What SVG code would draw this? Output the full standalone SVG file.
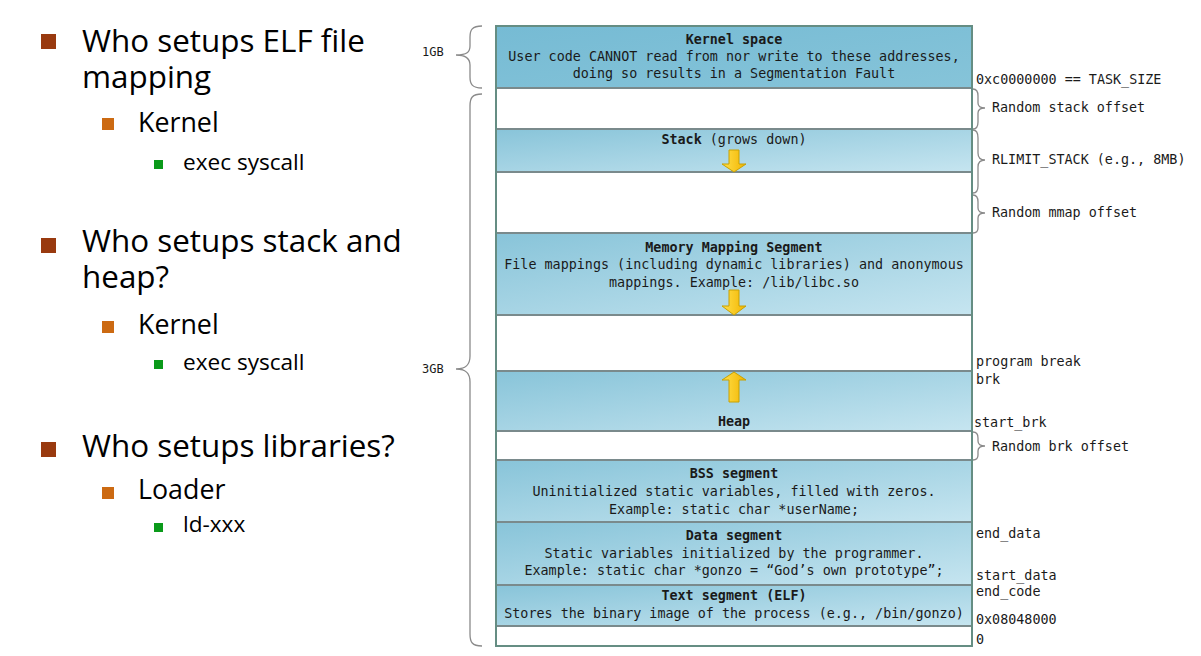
<svg xmlns="http://www.w3.org/2000/svg" width="1201" height="656" viewBox="0 0 1201 656">
<style>
.b1{font-family:"Open Sans","Noto Sans",sans-serif;font-size:31.4px;fill:#000}
.b2{font-family:"Open Sans","Noto Sans",sans-serif;font-size:26.8px;fill:#000}
.b3{font-family:"Open Sans","Noto Sans",sans-serif;font-size:22.6px;fill:#000}
.m{font-family:"DejaVu Sans Mono","Liberation Mono",monospace;font-size:13.4px;fill:#1a1a1a}
.mc{font-family:"DejaVu Sans Mono","Liberation Mono",monospace;font-size:13.4px;fill:#1a1a1a;text-anchor:middle}
.gb{font-family:"DejaVu Sans Mono","Liberation Mono",monospace;font-size:12px;fill:#1a1a1a}
.bold{font-weight:bold}
.seg{fill:url(#segGrad);stroke:#7a8a8c;stroke-width:2}
.white{fill:#fff;stroke:#7a8a8c;stroke-width:2}
.brace{fill:none;stroke:#8a8a8a;stroke-width:1.3}
.arr{fill:url(#arrGrad);stroke:#c9a100;stroke-width:1}
.sq1{fill:#993a0f}
.sq2{fill:#cc6a12}
.sq3{fill:#0a9a1a}
</style>
<defs>
<linearGradient id="segGrad" x1="0" y1="0" x2="1" y2="1">
<stop offset="0" stop-color="#88c4d9"/>
<stop offset="1" stop-color="#c6e5f0"/>
</linearGradient>
<linearGradient id="kernGrad" x1="0" y1="0" x2="1" y2="1">
<stop offset="0" stop-color="#76bbd4"/>
<stop offset="1" stop-color="#86c4d9"/>
</linearGradient>
<linearGradient id="arrGrad" x1="0" y1="0" x2="1" y2="0">
<stop offset="0" stop-color="#ffe04a"/>
<stop offset="1" stop-color="#f2b400"/>
</linearGradient>
</defs>
<rect width="1201" height="656" fill="#fff"/>

<g id="bullets">
<rect class="sq1" x="41" y="34" width="15" height="15"/>
<text class="b1" x="82" y="52">Who setups ELF file</text>
<text class="b1" x="82" y="88">mapping</text>
<rect class="sq2" x="102" y="118" width="12" height="12"/>
<text class="b2" x="138" y="132">Kernel</text>
<rect class="sq3" x="154" y="160" width="9" height="9"/>
<text class="b3" x="183" y="170">exec syscall</text>

<rect class="sq1" x="41" y="238" width="15" height="15"/>
<text class="b1" x="82" y="252">Who setups stack and</text>
<text class="b1" x="82" y="288">heap?</text>
<rect class="sq2" x="102" y="321" width="12" height="12"/>
<text class="b2" x="138" y="334">Kernel</text>
<rect class="sq3" x="154" y="360" width="9" height="9"/>
<text class="b3" x="183" y="370">exec syscall</text>

<rect class="sq1" x="41" y="442" width="15" height="15"/>
<text class="b1" x="82" y="457">Who setups libraries?</text>
<rect class="sq2" x="102" y="487" width="12" height="12"/>
<text class="b2" x="138" y="499">Loader</text>
<rect class="sq3" x="154" y="523" width="9" height="9"/>
<text class="b3" x="183" y="532">ld-xxx</text>
</g>

<g id="kernel">
<rect x="496" y="26" width="476" height="62" fill="url(#kernGrad)" stroke="#7a8a8c" stroke-width="2"/>
<text class="mc bold" x="734" y="44">Kernel space</text>
<text class="mc" x="734" y="61">User code CANNOT read from nor write to these addresses,</text>
<text class="mc" x="734" y="78">doing so results in a Segmentation Fault</text>
</g>
<g id="gap-stack"><rect class="white" x="496" y="88" width="476" height="41"/></g>
<g id="stack">
<rect class="seg" x="496" y="129" width="476" height="43"/>
<text class="mc" x="734" y="144"><tspan class="bold">Stack</tspan> (grows down)</text>
</g>
<g id="gap-mmap"><rect class="white" x="496" y="172" width="476" height="61"/></g>
<g id="mmap">
<rect class="seg" x="496" y="233" width="476" height="82"/>
<text class="mc bold" x="734" y="252">Memory Mapping Segment</text>
<text class="mc" x="734" y="269">File mappings (including dynamic libraries) and anonymous</text>
<text class="mc" x="734" y="287">mappings. Example: /lib/libc.so</text>
</g>
<g id="gap-heap"><rect class="white" x="496" y="315" width="476" height="56"/></g>
<g id="heap">
<rect class="seg" x="496" y="371" width="476" height="60"/>
<text class="mc bold" x="734" y="426">Heap</text>
</g>
<g id="gap-brk"><rect class="white" x="496" y="431" width="476" height="29"/></g>
<g id="bss">
<rect class="seg" x="496" y="460" width="476" height="62"/>
<text class="mc bold" x="734" y="478">BSS segment</text>
<text class="mc" x="734" y="496">Uninitialized static variables, filled with zeros.</text>
<text class="mc" x="734" y="514">Example: static char *userName;</text>
</g>
<g id="data">
<rect class="seg" x="496" y="522" width="476" height="63"/>
<text class="mc bold" x="734" y="540">Data segment</text>
<text class="mc" x="734" y="558">Static variables initialized by the programmer.</text>
<text class="mc" x="734" y="575">Example: static char *gonzo = “God’s own prototype”;</text>
</g>
<g id="text">
<rect class="seg" x="496" y="585" width="476" height="41"/>
<text class="mc bold" x="734" y="600">Text segment (ELF)</text>
<text class="mc" x="734" y="618">Stores the binary image of the process (e.g., /bin/gonzo)</text>
</g>
<g id="bottom"><rect class="white" x="496" y="626" width="476" height="20"/></g>
<rect x="496" y="26" width="476" height="620" fill="none" stroke="#5f8f80" stroke-width="1.5"/>

<g id="arrows">
<polygon class="arr" points="729,150 739,150 739,164 746,164 734,172 722,164 729,164"/>
<polygon class="arr" points="729,290 739,290 739,306 746,306 734,315 722,306 729,306"/>
<polygon class="arr" points="734,372 746,380 739,380 739,402 729,402 729,380 722,380"/>
</g>

<g id="connectors">
<path class="brace" d="M482,26 C472,26 470,30 470,37 L470,46 C470,52 467,55 456,55 C467,55 470,59 470,65 L470,77 C470,84 472,88 482,88"/>
<path class="brace" d="M482,94 C472,94 470,98 470,106 L470,356 C470,364 467,369 456,369 C467,369 470,374 470,382 L470,634 C470,642 472,646 482,646"/>
<path class="brace" d="M973,89 C977,89 978,92 978,96 L978,103 C978,106 980,108 985,108 C980,108 978,110 978,113 L978,122 C978,126 977,129 973,129"/>
<path class="brace" d="M973,130 C977,130 978,133 978,138 L978,153 C978,157 980,160 985,160 C980,160 978,163 978,167 L978,186 C978,190 977,193 973,193"/>
<path class="brace" d="M973,195 C977,195 978,198 978,202 L978,208 C978,211 980,213 985,213 C980,213 978,215 978,218 L978,228 C978,231 977,233 973,233"/>
<path class="brace" d="M973,432 C977,432 978,435 978,438 L978,441 C978,444 980,446 985,446 C980,446 978,448 978,451 L978,455 C978,458 977,460 973,460"/>
</g>

<g id="labels">
<text class="gb" x="422" y="56">1GB</text>
<text class="gb" x="422" y="373">3GB</text>
<text class="m" x="976" y="84">0xc0000000 == TASK_SIZE</text>
<text class="m" x="992" y="112">Random stack offset</text>
<text class="m" x="992" y="164">RLIMIT_STACK (e.g., 8MB)</text>
<text class="m" x="992" y="217">Random mmap offset</text>
<text class="m" x="976" y="366">program break</text>
<text class="m" x="976" y="384">brk</text>
<text class="m" x="974" y="427">start_brk</text>
<text class="m" x="992" y="451">Random brk offset</text>
<text class="m" x="976" y="538">end_data</text>
<text class="m" x="976" y="580">start_data</text>
<text class="m" x="976" y="596">end_code</text>
<text class="m" x="976" y="624">0x08048000</text>
<text class="m" x="976" y="644">0</text>
</g>
</svg>
